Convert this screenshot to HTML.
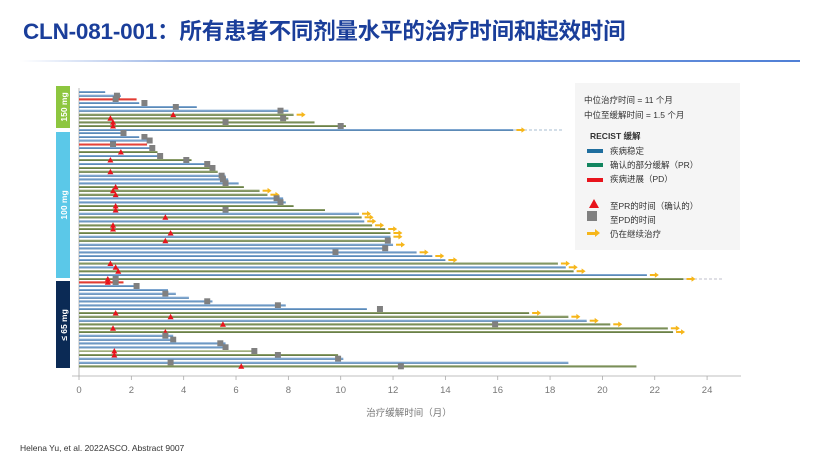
<!DOCTYPE html>
<html><head><meta charset="utf-8"><style>
body{margin:0;width:832px;height:468px;background:#fff;overflow:hidden;font-family:"Liberation Sans","Noto Sans CJK SC",sans-serif;position:relative}
.t{position:absolute;left:23px;top:14px;font-size:22.5px;font-weight:bold;color:#1a3e9a;letter-spacing:-0.2px}
.ln{position:absolute;left:20px;top:60px;width:780px;height:2px;background:linear-gradient(90deg,#fff,#9db6e6 20%,#4f7fd6)}
.lg{position:absolute;left:575px;top:83px;width:165px;height:167px;background:#f5f5f5;font-size:8.5px;color:#333}
.lg div{position:absolute;white-space:nowrap}
.ft{position:absolute;left:20px;top:443px;font-size:8.5px;color:#333}
</style></head><body>
<div class="t">CLN-081-001：所有患者不同剂量水平的治疗时间和起效时间</div>
<div class="ln"></div>
<svg id="s" width="832" height="468" style="position:absolute;left:0;top:0"></svg>
<div class="lg">
<div style="left:9px;top:11px">中位治疗时间 = 11 个月</div>
<div style="left:9px;top:26px">中位至缓解时间 = 1.5 个月</div>
<div style="left:15px;top:47px;font-weight:bold">RECIST 缓解</div>
<div style="left:12px;top:66px;width:16px;height:4px;background:#1f6e9e"></div><div style="left:35px;top:62px">疾病稳定</div>
<div style="left:12px;top:80px;width:16px;height:4px;background:#12855f"></div><div style="left:35px;top:76px">确认的部分缓解（PR）</div>
<div style="left:12px;top:95px;width:16px;height:4px;background:#e8141c"></div><div style="left:35px;top:90px">疾病进展（PD）</div>
<div style="left:14px;top:116px;width:0;height:0;border-left:5px solid transparent;border-right:5px solid transparent;border-bottom:9px solid #e8141c"></div><div style="left:35px;top:117px">至PR的时间（确认的）</div>
<div style="left:12px;top:128px;width:10px;height:10px;background:#808080"></div><div style="left:35px;top:131px">至PD的时间</div>
<div style="left:35px;top:145px">仍在继续治疗</div>
<div style="left:12px;top:149px;width:9px;height:3px;background:#f6b61a"></div><div style="left:20px;top:146px;width:0;height:0;border-top:4.5px solid transparent;border-bottom:4.5px solid transparent;border-left:5px solid #f6b61a"></div>
</div>
<div class="ft">Helena Yu,  et al. 2022ASCO. Abstract 9007</div>
<script>
var X=function(m){return 79+m*26.17};
var R=[
[92,1,'b'],[95.7,1.6,'b',1.45],[99.3,2.2,'r',1.4],[103,2.3,'b',2.5],[107,4.5,'b',3.7],[110.7,8,'b',7.7],[114.7,8.2,'g',0,3.6,1],[118.3,8,'g',7.8,1.2],[122.3,9,'g',5.6,1.3],[126,10.2,'g',10,1.3],[130,16.6,'b',0,0,1],
[133,1.8,'b',1.7],[137,2.3,'b',2.5],[140.5,2.6,'b',2.7],[144.5,2.6,'r',1.3],[148,2.9,'b',2.8],[152,3,'g',0,1.6],[156,3.2,'b',3.1],[160,4.3,'g',4.1,1.2],[164,5,'b',4.9],[168,5.2,'g',5.1],[171.7,5.3,'g',0,1.2],[175.7,5.6,'b',5.45],[179.3,5.7,'b',5.5],[183.3,6.1,'b',5.6],[187,6.3,'g',0,1.4],[190.7,6.9,'g',0,1.3,1],[194.7,7.2,'g',0,1.4,1],[198.3,7.8,'b',7.55],[202.3,7.9,'b',7.7],[206,8.2,'g',0,1.4],[210,9.4,'g',5.6,1.4],[213.7,10.7,'b',0,0,1],[217.3,10.8,'g',0,3.3,1],[221.3,10.9,'b',0,0,1],[225.3,11.2,'g',0,1.3,1],[229,11.7,'g',0,1.3,1],[233,11.9,'g',0,3.5,1],[236.7,11.9,'b',0,0,1],[240.7,11.8,'g',11.8,3.3],[244.7,12,'b',0,0,1],[248.3,11.8,'b',11.7],[252.3,12.9,'b',9.8,0,1],[256,13.5,'b',0,0,1],[260,14,'b',0,0,1],[263.5,18.3,'g',0,1.2,1],[267.3,18.6,'b',0,1.4,1],[271.2,18.9,'g',0,1.5,1],[275,21.7,'b',0,0,1],[279,23.1,'g',1.4,1.1,1],
[282.3,1.7,'r',1.4,1.1],[286,2.2,'b',2.2],[290,3.4,'b'],[293.7,3.7,'b',3.3],[297.7,4.2,'b'],[301.3,5.1,'b',4.9],[305.3,7.9,'b',7.6],[309,11,'b',11.5],[313,17.2,'g',0,1.4,1],[316.7,18.7,'g',0,3.5,1],[320.7,19.4,'b',0,0,1],[324.3,20.3,'g',15.9,5.5,1],[328.3,22.5,'g',0,1.3,1],[332,22.7,'g',0,3.3,1],[335.7,3.6,'b',3.3],[339.7,3.7,'b',3.6],[343.3,5.6,'b',5.4],[347.3,5.7,'b',5.6],[351,6.8,'l',6.7,1.35],[355,9.9,'g',7.6,1.35],[358.7,10.1,'b',9.9],[362.7,18.7,'b',3.5],[366.3,21.3,'g',12.3,6.2]
];
var C={b:'#7ea6d0',g:'#8a9c68',r:'#e8453c',l:'#bcc8a0'};
var D={b:'#4777a6',g:'#566f35',r:'#d02b22',l:'#8a9a6a'};
var h='';
h+='<rect x="56" y="86" width="14" height="42" fill="#8dc63f"/><rect x="56" y="132" width="14" height="146" fill="#5bc8e8"/><rect x="56" y="281" width="14" height="87" fill="#0b2a55"/>';
h+='<text transform="translate(67,107) rotate(-90)" text-anchor="middle" fill="#fff" font-size="8.5" font-weight="bold">150 mg</text>';
h+='<text transform="translate(67,205) rotate(-90)" text-anchor="middle" fill="#fff" font-size="8.5" font-weight="bold">100 mg</text>';
h+='<text transform="translate(67,325) rotate(-90)" text-anchor="middle" fill="#fff" font-size="8.5" font-weight="bold">≤ 65 mg</text>';
h+='<line x1="79" y1="88" x2="79" y2="376" stroke="#aaa" stroke-width="0.8"/>';
h+='<line x1="72" y1="376" x2="741" y2="376" stroke="#aaa" stroke-width="0.8"/>';
for(var i=0;i<=24;i+=2){var x=X(i);h+='<line x1="'+x+'" y1="376" x2="'+x+'" y2="380" stroke="#aaa" stroke-width="0.8"/><text x="'+x+'" y="393" text-anchor="middle" font-size="9.5" fill="#777">'+i+'</text>';}
h+='<text x="409" y="416" text-anchor="middle" font-size="9.5" fill="#777">治疗缓解时间（月）</text>';
h+='<line x1="79" y1="130" x2="562" y2="130" stroke="#8aa7c4" stroke-width="0.8" stroke-dasharray="3,2"/>';
h+='<line x1="79" y1="279" x2="723" y2="279" stroke="#aab" stroke-width="0.8" stroke-dasharray="3,2"/>';
R.forEach(function(r){var y=r[0],e=X(r[1]);
h+='<rect x="79" y="'+(y-1)+'" width="'+(e-79)+'" height="2" fill="'+C[r[2]]+'"/><rect x="79" y="'+(y+0.4)+'" width="'+(e-79)+'" height="0.6" fill="'+D[r[2]]+'"/>';
if(r[3]){var sx=X(r[3]);h+='<rect x="'+(sx-3)+'" y="'+(y-3)+'" width="6" height="6" fill="#808080"/>';}
if(r[4]){var tx=X(r[4]);h+='<polygon points="'+(tx-3)+','+(y+2.5)+' '+(tx+3)+','+(y+2.5)+' '+tx+','+(y-3)+'" fill="#e8141c"/>';}
if(r[5]){var ax=e+3;h+='<rect x="'+ax+'" y="'+(y-1)+'" width="6" height="2" fill="#f6b61a"/><polygon points="'+(ax+5)+','+(y-2.8)+' '+(ax+9)+','+y+' '+(ax+5)+','+(y+2.8)+'" fill="#f6b61a"/>';}
});
document.getElementById('s').innerHTML=h;
</script>
</body></html>
